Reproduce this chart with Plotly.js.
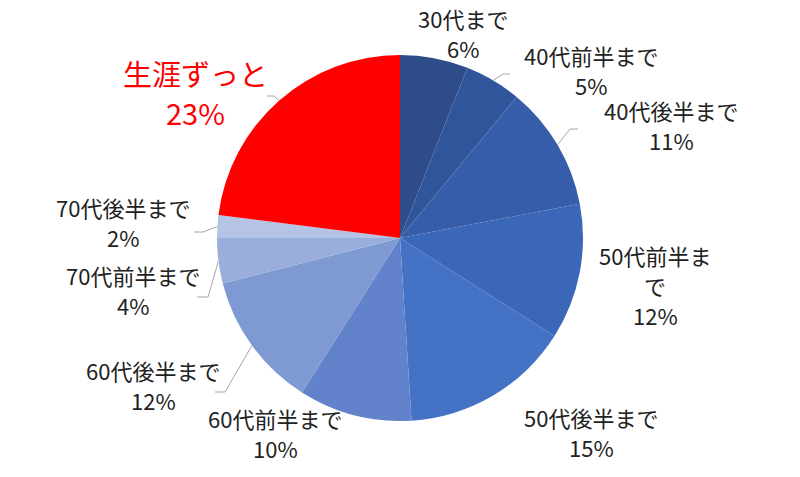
<!DOCTYPE html>
<html>
<head>
<meta charset="utf-8">
<script src="https://cdn.plot.ly/plotly-3.0.1.min.js"></script>
<style>html,body{margin:0;padding:0;background:#fff;}#chart{width:800px;height:477px;}</style>
</head>
<body>
<div id="chart"></div>
<script>
// Data
const categories = ['30代まで','40代前半まで','40代後半まで','50代前半まで','50代後半まで','60代前半まで','60代後半まで','70代前半まで','70代後半まで','生涯ずっと'];
const values = [6,5,11,12,15,10,12,4,2,23];
const sliceColors = ['#2E4D88','#31559B','#355DA9','#3A67B7','#4472C4','#6283CB','#7F99D3','#9AAEDC','#B5C4E5','#FF0000'];

// Layout helpers (pixel space; margins are 0)
const W = 800, H = 477;
const cx = 400, cy = 238, R = 183;
const px = x => x / W;
const py = y => 1 - y / H;

// label centre positions (layout only)
const labelPos = [
  [463, 33], [591, 70], [671, 125], [655, 285], [591, 432],
  [275, 433], [153, 385], [133, 290], [123, 222], [195, 92]
];
const labelLines = categories.map(c => c === '50代前半まで' ? ['50代前半ま', 'で'] : [c]);

// leader line elbows / ends (null = no leader)
const leaders = [
  null,
  [[503, 74], [510, 74]],
  [[570, 129], [578, 129]],
  null, null, null,
  [[225, 392], [215, 392]],
  [[208, 297], [197, 297]],
  [[203, 232], [194, 232]],
  [[274, 96], [267, 96]]
];

const total = values.reduce((a, b) => a + b, 0);
let cum = 0;
const annotations = [];
const shapes = [];
values.forEach((v, i) => {
  const mid = (cum + v / 2) / total * 2 * Math.PI;
  cum += v;
  const sx = cx + R * Math.sin(mid), sy = cy - R * Math.cos(mid);
  const pct = Math.round(v / total * 100) + '%';
  const isRed = categories[i] === '生涯ずっと';
  const lines = labelLines[i].concat([pct]);
  const gap = isRed ? 39 : 30;
  const size = isRed ? 29 : 22;
  lines.forEach((ln, k) => {
    const yy = labelPos[i][1] + (k - (lines.length - 1) / 2) * gap;
    annotations.push({
      x: px(labelPos[i][0]), y: py(yy), xref: 'paper', yref: 'paper',
      xanchor: 'center', yanchor: 'middle', showarrow: false, align: 'center',
      text: ln,
      font: {family: '"Noto Sans CJK JP", "Noto Sans", sans-serif', size: size, color: isRed ? '#FF0000' : '#222222'}
    });
  });
  if (leaders[i]) {
    const [e, t] = leaders[i];
    shapes.push({
      type: 'path', xref: 'paper', yref: 'paper',
      path: `M ${px(sx)} ${py(sy)} L ${px(e[0])} ${py(e[1])} L ${px(t[0])} ${py(t[1])}`,
      line: {color: '#A6A6A6', width: 1}
    });
  }
});

const trace = {
  type: 'pie',
  labels: categories,
  values: values,
  sort: false,
  direction: 'clockwise',
  rotation: 0,
  textinfo: 'none',
  hoverinfo: 'label+percent',
  marker: {colors: sliceColors, line: {width: 0}},
  domain: {x: [px(cx - R), px(cx + R)], y: [py(cy + R), py(cy - R)]},
  showlegend: false
};

const layout = {
  width: W, height: H,
  margin: {l: 0, r: 0, t: 0, b: 0},
  paper_bgcolor: '#ffffff',
  showlegend: false,
  annotations: annotations,
  shapes: shapes
};

Plotly.newPlot('chart', [trace], layout, {displayModeBar: false, staticPlot: true});
</script>
</body>
</html>
